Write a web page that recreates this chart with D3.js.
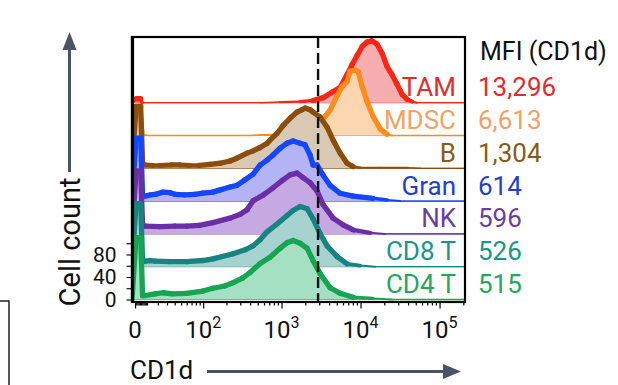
<!DOCTYPE html>
<html><head><meta charset="utf-8">
<script src="https://cdn.jsdelivr.net/npm/d3@7"></script>
<style>
body{margin:0;background:#fff}
svg{display:block}
text{font-family:Roboto,"Liberation Sans",Arial,sans-serif}
</style>
</head><body>
<svg id="chart" width="618" height="385"></svg>
<script>
// ---------- data (bottom row first) ----------
const populations = ["CD4 T", "CD8 T", "NK", "Gran", "B", "MDSC", "TAM"];
const mfiLabels   = ["515", "526", "596", "614", "1,304", "6,613", "13,296"];
const gateValue = 2900;               // dashed CD1d gate
const yTickValues = [0, 20, 40, 60, 80, 100];
const yTickLabels = [0, 40, 80];
const xMajorTicks = [0, 100, 1000, 10000, 100000];
const xTickExponents = ["", "2", "3", "4", "5"];
const xMinorTicks = [1,2,3,4,5,6,7,8,9,10,20,30,40,50,60,70,80,90,
  200,300,400,500,600,700,800,900,2000,3000,4000,5000,6000,7000,8000,9000,
  20000,30000,40000,50000,60000,70000,80000,90000,200000];

// histograms: [CD1d value, cell count]
const histCD4T = [[-2.5,0],[0.8,110],[4.6,110],[6.2,7],[8.3,7],[17.3,10],[25.5,12],[36.4,10],[60,11],[99,15],[134,20],[190,24],[243,30],[320,38],[399,48],[535,64],[716,75],[958,91],[1176,101],[1400,105],[1717,100],[2110,91],[2510,69],[3075,46],[4117,21],[5510,11],[8050,4],[14400,2],[25000,0],[210000,0]];
const histCD8T = [[-2.5,0],[0.8,112],[4.6,112],[6.2,9],[8.3,10],[12.6,11],[17.3,10],[33.7,9],[60,9],[99,11],[134,14],[243,23],[345,30],[436,37],[535,48],[657,62],[877,76],[1176,91],[1400,100],[1717,107],[2110,103],[2510,85],[3075,59],[3770,37],[5050,18],[6760,5],[9872,2],[15285,0],[210000,0]];
const histNK   = [[-2.5,0],[0.8,112],[4.6,112],[6.2,14],[8.3,14],[22,13],[40,14],[60,14],[89,15],[134,20],[222,28],[300,35],[366,43],[436,59],[585,69],[781,82],[1046,96],[1283,105],[1574,108],[1870,100],[2298,91],[2820,76],[3360,52],[4500,28],[6020,16],[8050,7],[13216,2],[20460,0],[210000,0]];
const histGran = [[-2.5,0],[0.8,112],[4.6,112],[6.2,9],[8.3,9],[13,11],[17.3,12],[25.5,16],[33.7,15],[40.5,12],[56.4,11],[76.8,12],[99,14],[134,16],[166,20],[222,25],[272,28],[345,38],[436,48],[535,64],[657,73],[781,82],[958,94],[1176,103],[1400,107],[1717,103],[1986,100],[2298,82],[2510,64],[2820,64],[3360,46],[4117,28],[5510,14],[8050,9],[14400,5],[21700,2],[31682,0],[210000,0]];
const histB    = [[-2.5,0],[0.8,110],[4.6,110],[6.2,8],[8.3,6],[15,5],[22,5],[35,6],[48,6],[66,5],[89,5],[123,7],[166,9],[222,13],[272,18],[366,27],[436,31],[535,37],[650,44],[716,50],[877,62],[1046,76],[1283,89],[1574,100],[1800,104],[1986,107],[2300,104],[2510,100],[3075,91],[3770,73],[4500,50],[5510,27],[6760,9],[8050,3],[9870,1],[17700,1],[40000,1],[56700,0],[210000,0]];
const histMDSC = [[-2.5,0],[0.8,30],[4.6,30],[5.8,1],[12,0],[400,0],[535,1],[716,1],[958,2],[1283,3],[1717,6],[2298,12],[2820,20],[3360,30],[3559,34],[4117,45],[5050,71],[5850,87],[6760,96],[7375,114],[8532,116],[9320,114],[10480,87],[12110,60],[14400,34],[17685,12],[21700,2],[25000,0],[210000,0]];
const histTAM  = [[-2.5,0],[0.8,7],[4.6,7],[5.8,0],[535,0],[958,1],[1717,2],[2510,4],[3360,9],[4500,20],[5510,27],[6760,50],[7830,68],[9050,84],[10480,100],[12110,108],[14000,110],[16200,104],[18750,88],[21700,64],[25000,50],[28980,33],[33550,15],[38800,6],[45000,2],[51900,0],[210000,0]];
const histograms = [histCD4T, histCD8T, histNK, histGran, histB, histMDSC, histTAM];

const lineColors = ["#16a552", "#178482", "#6a2ea6", "#1446ff", "#8c4c0c", "#ff8c1a", "#ff2414"];
const fillColors = ["#a6e0c2", "#a6d3d0", "#c6a8e2", "#b3b3f6", "#d8c9b4", "#fbd6b0", "#f7aeb0"];
const textColors = ["#22a85e", "#1a958c", "#6b3da3", "#1f3fd0", "#8a5c18", "#f2a264", "#e42a2a"];

// ---------- layout ----------
const L = 132, R = 465, T = 37, B = 302;
const rowStep = 32.8;
const svg = d3.select("#chart");

// biexponential-like display transform (arcsinh)
const tf = v => Math.asinh(v / 28) / Math.LN10;
const x = d3.scaleLinear().domain([tf(-2.5), tf(210000)]).range([L, R]);
const X = v => x(tf(v));
const y = d3.scaleLinear().domain([0, 100]).range([299.5, 243.25]);

svg.append("defs").append("clipPath").attr("id", "plotclip")
  .append("rect").attr("x", L).attr("y", T).attr("width", R - L).attr("height", B - T);

const plot = svg.append("g").attr("clip-path", "url(#plotclip)");

for (let i = populations.length - 1; i >= 0; i--) {
  const data = histograms[i];
  const off = -i * rowStep;
  const base = y(0) + off;
  const g = plot.append("g");
  g.append("line").attr("x1", L).attr("x2", R).attr("y1", base).attr("y2", base)
    .attr("stroke", lineColors[i]).attr("stroke-width", 1);
  const area = d3.area().x(d => X(d[0])).y0(base).y1(d => y(d[1]) + off);
  g.append("path").datum(data).attr("d", area).attr("fill", fillColors[i]);
  const segs = d3.pairs(data);
  g.selectAll("line.seg").data(segs).join("line").attr("class", "seg")
    .attr("x1", d => X(d[0][0])).attr("y1", d => y(d[0][1]) + off)
    .attr("x2", d => X(d[1][0])).attr("y2", d => y(d[1][1]) + off)
    .attr("stroke", lineColors[i])
    .attr("stroke-linecap", "round")
    .attr("stroke-width", d => 1.3 + 4.0 * Math.min(1, (d[0][1] + d[1][1]) / 2 / 6));
}

// gate line
svg.append("line").attr("x1", X(gateValue)).attr("x2", X(gateValue))
  .attr("y1", T).attr("y2", B).attr("stroke", "#111").attr("stroke-width", 2.4)
  .attr("stroke-dasharray", "11,5");

// frame
svg.append("rect").attr("x", L).attr("y", T).attr("width", R - L).attr("height", B - T)
  .attr("fill", "none").attr("stroke", "#000").attr("stroke-width", 2.2);
svg.append("line").attr("x1", L + 0.5).attr("x2", L + 0.5).attr("y1", T - 1).attr("y2", B + 1)
  .attr("stroke", "#000").attr("stroke-width", 3.2);

// x axis ticks
const xMajorAxis = d3.axisBottom(x).tickValues(xMajorTicks.map(tf)).tickFormat("").tickSize(6).tickSizeOuter(0);
const xMinorAxis = d3.axisBottom(x).tickValues(xMinorTicks.map(tf)).tickFormat("").tickSize(3).tickSizeOuter(0);
[xMajorAxis, xMinorAxis].forEach(ax => {
  const g = svg.append("g").attr("transform", `translate(0,${B + 0.5})`).call(ax);
  g.select(".domain").remove();
  g.selectAll(".tick line").attr("stroke", "#000").attr("stroke-width", 1.2);
});
const xl = svg.append("g");
xMajorTicks.forEach((v, k) => {
  const t = xl.append("text").attr("x", X(v)).attr("y", 338).attr("text-anchor", "middle")
    .attr("font-size", 24).attr("fill", "#111");
  if (v === 0) { t.text("0"); }
  else {
    t.append("tspan").text("10");
    t.append("tspan").attr("dy", -10).attr("font-size", 16).text(xTickExponents[k]);
  }
});

// y axis
const yAxis = d3.axisLeft(y).tickValues(yTickValues)
  .tickFormat(d => yTickLabels.includes(d) ? d : "").tickSize(5).tickSizeOuter(0).tickPadding(10);
const gy = svg.append("g").attr("transform", `translate(${L - 0.5},0)`).call(yAxis);
gy.select(".domain").remove();
gy.selectAll(".tick line").attr("stroke", "#000").attr("stroke-width", 1.1);
gy.selectAll(".tick text").attr("font-size", 21).attr("fill", "#111")
  .attr("font-family", "Roboto, 'Liberation Sans', Arial, sans-serif");

// row labels and MFI values
populations.forEach((p, i) => {
  const base = y(0) - i * rowStep;
  svg.append("text").attr("x", 456).attr("y", base - 6.5).attr("text-anchor", "end")
    .attr("font-size", 26).attr("fill", textColors[i]).text(p);
  svg.append("text").attr("x", 478).attr("y", base - 6.5)
    .attr("font-size", 26).attr("fill", textColors[i]).text(mfiLabels[i]);
});
svg.append("text").attr("x", 480).attr("y", 60).attr("font-size", 25).attr("fill", "#111").text("MFI (CD1d)");

// axis titles with arrows
const arrowColor = "#4a5366";
svg.append("line").attr("x1", 69.5).attr("x2", 69.5).attr("y1", 172).attr("y2", 46)
  .attr("stroke", arrowColor).attr("stroke-width", 3);
svg.append("path").attr("d", "M69.5,32 L62.5,50 L76.5,50 Z").attr("fill", arrowColor);
svg.append("text").attr("transform", "translate(80,242) rotate(-90)").attr("text-anchor", "middle")
  .attr("font-size", 29).attr("fill", "#111").text("Cell count");

svg.append("line").attr("x1", 207).attr("x2", 446).attr("y1", 371.5).attr("y2", 371.5)
  .attr("stroke", arrowColor).attr("stroke-width", 3);
svg.append("path").attr("d", "M461,371.5 L443,364 L443,379 Z").attr("fill", arrowColor);
svg.append("text").attr("x", 130).attr("y", 378.5).attr("font-size", 26).attr("fill", "#111").text("CD1d");

// fragment of neighbouring panel
svg.append("path").attr("d", "M0,301 H9 V385").attr("fill", "none").attr("stroke", "#222").attr("stroke-width", 1.5);
</script>
</body></html>
